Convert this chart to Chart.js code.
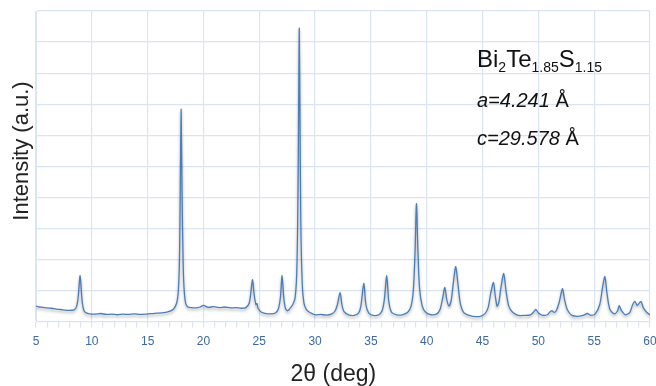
<!DOCTYPE html>
<html>
<head>
<meta charset="utf-8">
<script src="https://cdn.jsdelivr.net/npm/chart.js@4"></script>
<style>
  html, body { margin: 0; padding: 0; background: #fff; }
  #wrap { width: 656px; height: 386px; }
</style>
</head>
<body>
<div id="wrap"><canvas id="xrd"></canvas></div>
<script>
// 2theta (deg) and intensity (a.u.)
const twoTheta = [
  5.0, 5.3, 5.6, 6.0, 6.4, 6.8, 7.2, 7.6, 8.0, 8.4, 8.6, 8.75, 8.85, 8.95, 9.05, 9.15, 9.3, 9.5,
  9.8, 10.3, 10.8, 11.3, 11.8, 12.3, 12.8, 13.3, 13.8, 14.3, 14.8, 15.3, 15.8, 16.3, 16.8, 17.3,
  17.6, 17.75, 17.85, 17.93, 18.0, 18.08, 18.2, 18.35, 18.55, 18.9, 19.3, 19.7, 20.0, 20.4, 20.9,
  21.4, 21.9, 22.4, 22.9, 23.4, 23.8, 24.1, 24.25, 24.4, 24.55, 24.7, 24.8, 24.9, 25.2, 25.6,
  26.0, 26.4, 26.7, 26.9, 27.04, 27.2, 27.35, 27.55, 27.8, 28.0, 28.2, 28.35, 28.45, 28.52, 28.58,
  28.64, 28.72, 28.85, 29.0, 29.2, 29.5, 30.0, 30.5, 31.0, 31.5, 31.8, 32.0, 32.24, 32.4, 32.6,
  33.0, 33.5, 33.9, 34.1, 34.36, 34.55, 34.8, 35.2, 35.7, 36.0, 36.2, 36.42, 36.6, 36.85, 37.3,
  37.8, 38.3, 38.6, 38.8, 38.95, 39.08, 39.2, 39.35, 39.6, 39.9, 40.4, 40.9, 41.2, 41.45, 41.62,
  41.8, 42.0, 42.2, 42.4, 42.6, 42.8, 43.0, 43.3, 43.8, 44.3, 44.8, 45.2, 45.5, 45.75, 45.98,
  46.15, 46.3, 46.45, 46.65, 46.9, 47.1, 47.35, 47.7, 48.2, 48.8, 49.3, 49.55, 49.77, 50.0, 50.4,
  50.8, 51.0, 51.2, 51.4, 51.6, 51.85, 52.16, 52.35, 52.6, 53.0, 53.5, 54.0, 54.4, 54.7, 55.1,
  55.5, 55.75, 55.96, 56.15, 56.4, 56.8, 57.1, 57.24, 57.45, 57.8, 58.2, 58.45, 58.65, 58.85,
  59.0, 59.2, 59.4, 59.7, 60.0
];
const intensity = [
  0.50, 0.47, 0.46, 0.44, 0.43, 0.40, 0.39, 0.37, 0.36, 0.38, 0.45, 0.70, 1.10, 1.48, 1.05, 0.60, 0.35, 0.28,
  0.25, 0.24, 0.26, 0.23, 0.24, 0.22, 0.24, 0.23, 0.25, 0.23, 0.24, 0.26, 0.27, 0.28, 0.31, 0.40,
  0.60, 1.00, 2.00, 4.50, 6.84, 4.20, 1.60, 0.70, 0.48, 0.45, 0.44, 0.47, 0.52, 0.46, 0.48,
  0.45, 0.47, 0.44, 0.45, 0.43, 0.45, 0.60, 0.95, 1.35, 0.85, 0.55, 0.58, 0.42, 0.30, 0.26,
  0.25, 0.27, 0.40, 0.80, 1.48, 0.75, 0.42, 0.35, 0.45, 0.55, 0.75, 1.50, 3.50, 6.50, 9.45,
  6.80, 3.20, 1.20, 0.60, 0.40, 0.30, 0.22, 0.23, 0.21, 0.25, 0.35, 0.55, 0.94, 0.55, 0.32,
  0.22, 0.20, 0.28, 0.50, 1.23, 0.55, 0.28, 0.20, 0.22, 0.35, 0.70, 1.48, 0.65, 0.30, 0.22,
  0.22, 0.30, 0.50, 1.00, 2.20, 3.80, 2.40, 1.10, 0.50, 0.30, 0.22, 0.25, 0.40, 0.80, 1.10,
  0.70, 0.50, 0.70, 1.30, 1.77, 1.20, 0.60, 0.30, 0.20, 0.16, 0.17, 0.25, 0.45, 0.95, 1.26,
  0.80, 0.50, 0.60, 1.10, 1.55, 1.00, 0.50, 0.30, 0.20, 0.20, 0.22, 0.30, 0.39, 0.28, 0.20,
  0.22, 0.30, 0.35, 0.30, 0.35, 0.60, 1.06, 0.70, 0.38, 0.20, 0.17, 0.20, 0.26, 0.20, 0.25,
  0.55, 1.10, 1.45, 0.90, 0.40, 0.25, 0.35, 0.52, 0.35, 0.22, 0.30, 0.55, 0.65, 0.52,
  0.58, 0.65, 0.45, 0.30, 0.22
];
const xTicks = [5, 10, 15, 20, 25, 30, 35, 40, 45, 50, 55, 60];

const gridColor = '#dae4f2';
const font = '"Liberation Sans", Arial, sans-serif';

const lineShadow = {
  id: 'lineShadow',
  beforeDatasetsDraw(chart) {
    const c = chart.ctx;
    c.save();
    c.shadowColor = 'rgba(0,0,0,0.35)';
    c.shadowBlur = 3;
    c.shadowOffsetY = 2;
  },
  afterDatasetsDraw(chart) {
    chart.ctx.restore();
  }
};

const labels = {
  id: 'labels',
  afterDraw(chart) {
    const c = chart.ctx;
    c.save();
    c.fillStyle = '#111';
    c.textBaseline = 'alphabetic';
    let x = 477, y = 67;
    const parts = [['Bi', 24, 0], ['2', 14, 5], ['Te', 24, 0], ['1.85', 14, 5], ['S', 24, 0], ['1.15', 14, 5]];
    parts.forEach(p => {
      c.font = p[1] + 'px ' + font;
      c.fillText(p[0], x, y + p[2]);
      x += c.measureText(p[0]).width;
    });
    const lines = [['a=4.241', 477, 107], ['c=29.578', 477, 145]];
    lines.forEach(l => {
      c.font = 'italic 20px ' + font;
      c.fillText(l[0], l[1], l[2]);
      const w = c.measureText(l[0]).width;
      c.font = '20px ' + font;
      c.fillText(' \u00C5', l[1] + w, l[2]);
    });
    c.restore();
  }
};

new Chart(document.getElementById('xrd').getContext('2d'), {
  type: 'line',
  data: {
    datasets: [{
      data: twoTheta.map((x, i) => ({ x: x, y: intensity[i] })),
      borderColor: '#4a7ebb',
      borderWidth: 1.3,
      pointRadius: 0,
      tension: 0.25,
      fill: false
    }]
  },
  options: {
    responsive: true,
    maintainAspectRatio: false,
    animation: false,
    layout: { padding: { top: 11, right: 0, left: 10, bottom: 0 } },
    plugins: { legend: { display: false }, tooltip: { enabled: false } },
    scales: {
      x: {
        type: 'linear',
        min: 5,
        max: 60,
        afterFit: s => { s.paddingRight = 6; },
        ticks: {
          stepSize: 1,
          autoSkip: false,
          maxRotation: 0,
          color: '#3c69a3',
          font: { family: font, size: 12 },
          padding: 7,
          callback: v => (xTicks.indexOf(v) !== -1 ? String(v) : '')
        },
        grid: {
          color: ctx => (xTicks.indexOf(ctx.tick.value) !== -1 ? gridColor : 'rgba(0,0,0,0)'),
          tickColor: gridColor,
          tickLength: 6,
          lineWidth: 1.2
        },
        border: { color: gridColor },
        title: {
          display: true,
          text: '2\u03B8 (deg)   ',
          color: '#222',
          font: { family: font, size: 23, lineHeight: 1 },
          padding: { top: 7, bottom: 0 }
        }
      },
      y: {
        min: 0,
        max: 10,
        ticks: { display: false, stepSize: 1 },
        grid: { color: gridColor, drawTicks: false, lineWidth: 1.2 },
        border: { color: gridColor },
        title: {
          display: true,
          text: '     Intensity (a.u.)',
          color: '#222',
          font: { family: font, size: 22, lineHeight: 1 },
          padding: { top: 1, bottom: 3 }
        }
      }
    }
  },
  plugins: [lineShadow, labels]
});
</script>
</body>
</html>
